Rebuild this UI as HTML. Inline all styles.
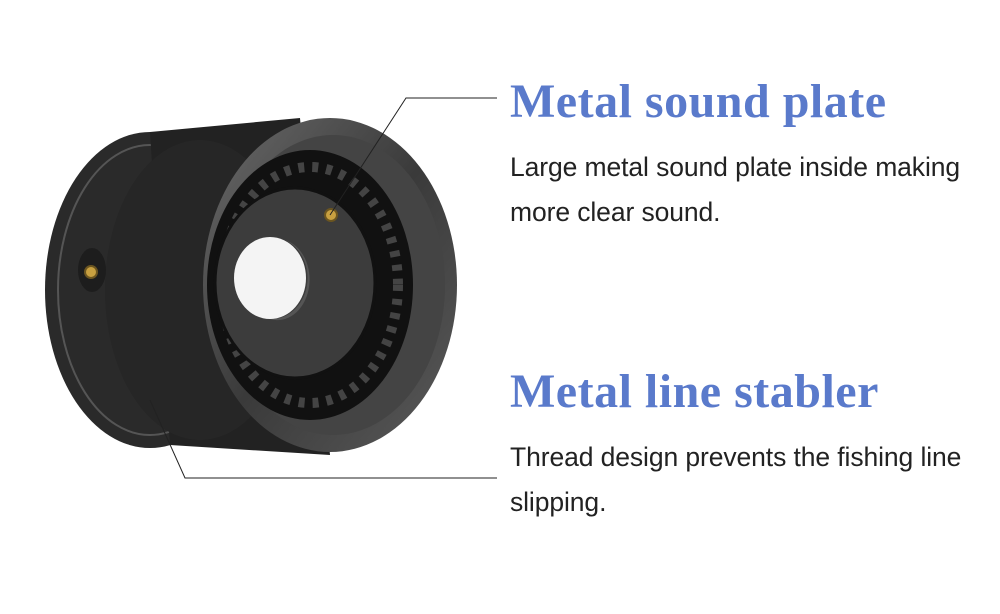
<!DOCTYPE html>
<html><head><meta charset="utf-8"><style>
body{margin:0;width:1000px;height:614px;background:#fff;position:relative;overflow:hidden;font-family:"Liberation Sans","Noto Sans CJK SC",sans-serif}
.t{position:absolute;left:510px;color:#5a7acb;font-family:"Liberation Serif",serif;font-weight:bold;font-size:48px;white-space:nowrap;letter-spacing:0.5px}
.b{position:absolute;left:510px;color:#222;font-size:26.5px;line-height:45px;letter-spacing:-0.1px}
</style></head><body>
<svg width="1000" height="614" style="position:absolute;left:0;top:0">
<defs>
<linearGradient id="g2" x1="0" y1="0" x2="1" y2="1"><stop offset="0" stop-color="#6a6a6a"/><stop offset="0.5" stop-color="#3a3a3a"/><stop offset="1" stop-color="#5a5a5a"/></linearGradient>
</defs>
<ellipse cx="150" cy="290" rx="105" ry="158" fill="#2a2a2a"/>
<ellipse cx="150" cy="290" rx="92" ry="145" fill="none" stroke="#555" stroke-width="2"/>
<path d="M150 132 L300 118 L330 455 L170 445 Z" fill="#222"/>
<ellipse cx="200" cy="290" rx="95" ry="150" fill="#262626"/>
<ellipse cx="330" cy="285" rx="127" ry="167" fill="url(#g2)"/>
<ellipse cx="333" cy="285" rx="112" ry="150" fill="#444"/>
<ellipse cx="310" cy="285" rx="103" ry="135" fill="#111"/>
<ellipse cx="310" cy="285" rx="88" ry="118" fill="none" stroke="#444" stroke-width="10" stroke-dasharray="6 8"/>
<ellipse cx="295" cy="283" rx="80" ry="95" fill="#3c3c3c" stroke="#111" stroke-width="3"/>
<ellipse cx="270" cy="278" rx="36" ry="41" fill="#f4f4f4"/>
<path d="M285 240 A36 41 0 0 1 270 319 A30 38 0 0 0 285 240Z" fill="#555"/>
<ellipse cx="92" cy="270" rx="14" ry="22" fill="#1d1d1d"/>
<circle cx="91" cy="272" r="6" fill="#c8a040" stroke="#6b5520" stroke-width="2"/>
<circle cx="331" cy="215" r="6" fill="#c8a040" stroke="#6b5520" stroke-width="2"/>
<polyline points="497,98 406,98 330,215" fill="none" stroke="#222" stroke-width="1"/>
<polyline points="150,400 185,478 497,478" fill="none" stroke="#222" stroke-width="1"/>
</svg>
<div class="t" style="top:74px">Metal sound plate</div>
<div class="b" style="top:145px">Large metal sound plate inside making<br>more clear sound.</div>
<div class="t" style="top:364px">Metal line stabler</div>
<div class="b" style="top:435px">Thread design prevents the fishing line<br>slipping.</div>
</body></html>
